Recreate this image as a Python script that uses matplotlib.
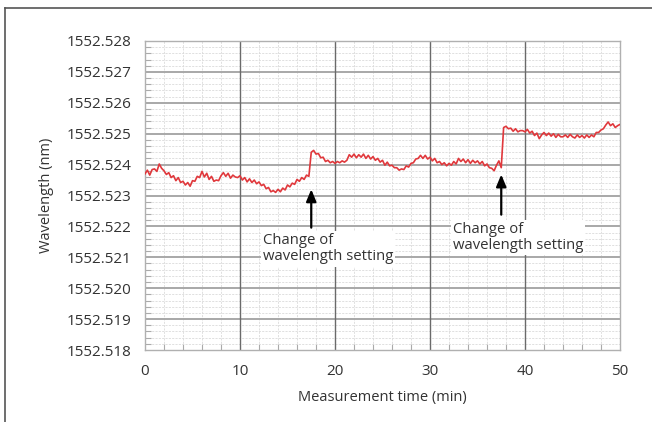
import numpy as np
import matplotlib
matplotlib.use('Agg')
import matplotlib.pyplot as plt
from matplotlib.lines import Line2D
from matplotlib.ticker import MultipleLocator, FormatStrFormatter

# wavelength readings, pm above 1552.520 nm, every 0.25 min from 0 to 50 min
BASE_NM = 1552.520
STEP_MIN = 0.25
offset_pm = [
    3.70, 3.82, 3.66, 3.84, 3.86, 3.78, 4.02, 3.88,
    3.80, 3.68, 3.74, 3.58, 3.64, 3.48, 3.58, 3.42,
    3.46, 3.34, 3.42, 3.30, 3.48, 3.46, 3.62, 3.58,
    3.78, 3.60, 3.72, 3.52, 3.62, 3.46, 3.50, 3.48,
    3.64, 3.74, 3.62, 3.72, 3.56, 3.66, 3.60, 3.58,
    3.64, 3.50, 3.58, 3.44, 3.54, 3.42, 3.50, 3.38,
    3.44, 3.32, 3.36, 3.22, 3.26, 3.12, 3.16, 3.10,
    3.20, 3.12, 3.24, 3.18, 3.34, 3.28, 3.40, 3.36,
    3.52, 3.46, 3.58, 3.52, 3.66, 3.62, 4.40, 4.46,
    4.34, 4.36, 4.22, 4.24, 4.10, 4.14, 4.06, 4.10,
    4.04, 4.10, 4.06, 4.12, 4.08, 4.14, 4.32, 4.24,
    4.34, 4.22, 4.32, 4.24, 4.34, 4.20, 4.30, 4.18,
    4.26, 4.14, 4.20, 4.08, 4.14, 3.98, 4.08, 3.96,
    3.98, 3.90, 3.90, 3.82, 3.86, 3.84, 3.96, 3.92,
    4.04, 4.06, 4.18, 4.20, 4.30, 4.20, 4.30, 4.18,
    4.24, 4.12, 4.20, 4.06, 4.10, 4.00, 4.06, 3.96,
    4.04, 3.98, 4.10, 4.02, 4.20, 4.10, 4.18, 4.06,
    4.16, 4.04, 4.14, 4.06, 4.12, 4.02, 4.10, 3.96,
    4.02, 3.90, 3.88, 3.80, 3.98, 4.12, 3.90, 5.20,
    5.24, 5.16, 5.18, 5.08, 5.16, 5.06, 5.10, 5.10,
    5.06, 5.14, 5.02, 5.08, 4.94, 5.02, 4.84, 4.96,
    5.04, 4.94, 5.02, 4.92, 5.00, 4.88, 4.98, 4.90,
    4.90, 4.96, 4.88, 4.98, 4.90, 4.86, 4.96, 4.88,
    4.94, 4.86, 4.96, 4.88, 4.96, 4.90, 5.04, 5.04,
    5.12, 5.16, 5.28, 5.38, 5.26, 5.32, 5.20, 5.26,
    5.30,
]

# annotations: (label, arrow tip time, arrow tip nm, arrow tail nm, text x, text y)
notes = [
    ("Change of\nwavelength setting", 17.5, 1552.52320, 1552.52196, 12.4, 1552.52128),
    ("Change of\nwavelength setting", 37.5, 1552.52368, 1552.52238, 32.4, 1552.52164),
]

plt.rcParams['font.family'] = ['Open Sans', 'DejaVu Sans']
txt_color = '#333333'

t = np.arange(len(offset_pm)) * STEP_MIN
wl = BASE_NM + np.array(offset_pm) / 1000.0

fig = plt.figure(figsize=(6.52, 4.22), dpi=100)
ax = fig.add_axes([145/652, 1 - 350/422, 475/652, 309/422])

ax.plot(t, wl, color='#e0383c', lw=1.2, zorder=3)

ax.set_xlim(0, 50)
ax.set_ylim(1552.518, 1552.528)
ax.xaxis.set_major_locator(MultipleLocator(10))
ax.xaxis.set_minor_locator(MultipleLocator(2))
ax.yaxis.set_major_locator(MultipleLocator(0.001))
ax.yaxis.set_minor_locator(MultipleLocator(0.0002))
ax.yaxis.set_major_formatter(FormatStrFormatter('%.3f'))

# minor grid from the axis, major lines drawn on top of it
ax.grid(True, which='minor', color='#dadada', lw=0.6, ls=(0, (2.5, 1.5)))
ax.set_axisbelow(True)
for xv in ax.get_xticks():
    if 0 < xv < 50:
        ax.axvline(xv, color='#6a6a6a', lw=1.0, zorder=1.5)
for yv in ax.get_yticks():
    if 1552.518 < yv < 1552.528:
        ax.axhline(yv, color='#a8a8a8', lw=1.4, zorder=1.4)

for s in ax.spines.values():
    s.set_color('#b0b0b0')
    s.set_linewidth(1.0)

ax.tick_params(which='both', direction='in', colors='#aaaaaa', labelcolor=txt_color,
               labelsize=11, top=False, right=False)
ax.tick_params(which='major', length=0)
ax.tick_params(which='minor', length=4, width=0.8)
ax.tick_params(axis='y', pad=10)
ax.tick_params(axis='x', pad=10)

ax.set_xlabel('Measurement time (min)', fontsize=10.5, color=txt_color, labelpad=8)
ax.set_ylabel('Wavelength (nm)', fontsize=10.5, color=txt_color, labelpad=9)

for label, tx, tip, tail, xt, yt in notes:
    ax.annotate('', xy=(tx, tip), xytext=(tx, tail),
                arrowprops=dict(arrowstyle='-|>,head_length=0.6,head_width=0.25',
                                color='black', lw=1.6,
                                mutation_scale=12, shrinkA=0, shrinkB=0), zorder=4)
    ax.text(xt, yt, label, fontsize=10.7, color=txt_color, ha='left', va='center',
            linespacing=1.15, zorder=5,
            bbox=dict(facecolor='white', edgecolor='none', pad=1.5))

# frame around the figure (top and left only)
fig.add_artist(Line2D([5/652, 5/652], [0, 1 - 8/422], color='#555555', lw=1.2))
fig.add_artist(Line2D([5/652, 1], [1 - 8/422, 1 - 8/422], color='#555555', lw=1.2))

fig.savefig('out.png', dpi=100)
